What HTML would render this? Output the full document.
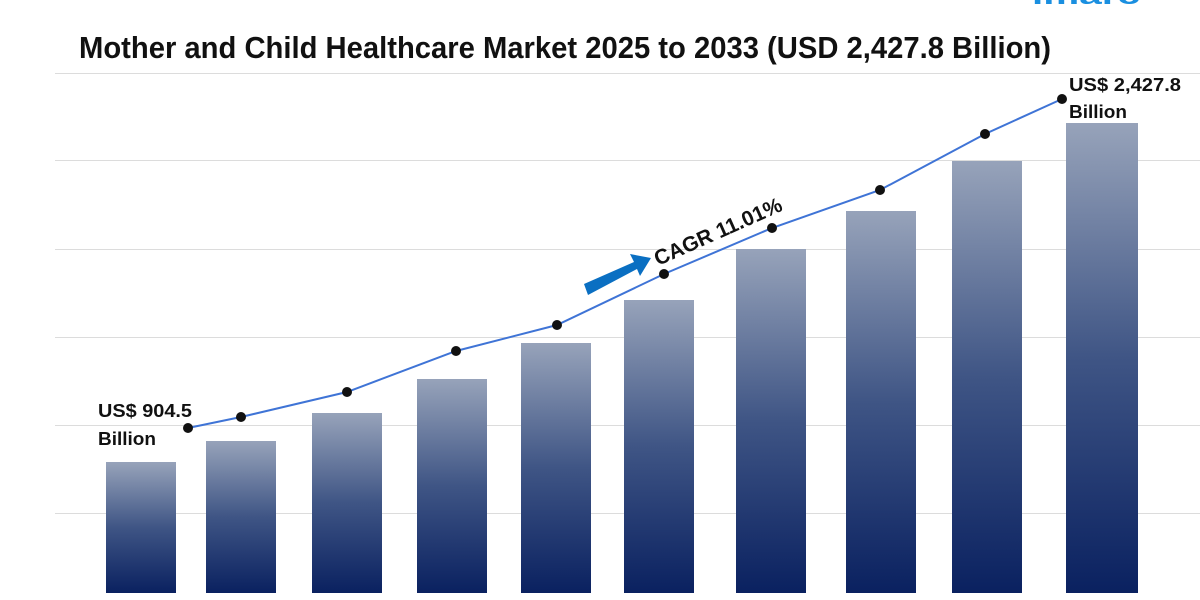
<!DOCTYPE html>
<html><head><meta charset="utf-8"><style>
html,body{margin:0;padding:0;background:#fff;}
svg{display:block;font-family:"Liberation Sans",sans-serif;}
</style></head><body>
<svg width="1200" height="600" viewBox="0 0 1200 600" xmlns="http://www.w3.org/2000/svg">
<defs>
<linearGradient id="g" x1="0" y1="0" x2="0" y2="1">
<stop offset="0" stop-color="#97a3ba"/>
<stop offset="0.5" stop-color="#3f5585"/>
<stop offset="1" stop-color="#0a2160"/>
</linearGradient>
</defs>
<text x="1032" y="4" font-size="24" font-weight="bold" fill="#1a8fe0" textLength="108" lengthAdjust="spacingAndGlyphs">imarc</text>
<text x="565" y="58" text-anchor="middle" font-size="31" font-weight="bold" fill="#111" textLength="972" lengthAdjust="spacingAndGlyphs">Mother and Child Healthcare Market 2025 to 2033 (USD 2,427.8 Billion)</text>
<g stroke="#dcdcdc" stroke-width="1">
<line x1="55" y1="73.5" x2="1200" y2="73.5"/>
<line x1="55" y1="160.5" x2="1200" y2="160.5"/>
<line x1="55" y1="249.5" x2="1200" y2="249.5"/>
<line x1="55" y1="337.5" x2="1200" y2="337.5"/>
<line x1="55" y1="425.5" x2="1200" y2="425.5"/>
<line x1="55" y1="513.5" x2="1200" y2="513.5"/>
</g>
<g fill="url(#g)">
<rect x="106" y="462" width="70" height="131"/>
<rect x="206" y="441" width="70" height="152"/>
<rect x="312" y="413" width="70" height="180"/>
<rect x="417" y="379" width="70" height="214"/>
<rect x="521" y="343" width="70" height="250"/>
<rect x="624" y="300" width="70" height="293"/>
<rect x="736" y="249" width="70" height="344"/>
<rect x="846" y="211" width="70" height="382"/>
<rect x="952" y="161" width="70" height="432"/>
<rect x="1066" y="123" width="72" height="470"/>
</g>
<polyline fill="none" stroke="#3f74d6" stroke-width="2" points="188,428 241,417 347,392 456,351 557,325 664,274 772,228 880,190 985,134 1062,99"/>
<g fill="#111">
<circle cx="188" cy="428" r="5"/><circle cx="241" cy="417" r="5"/><circle cx="347" cy="392" r="5"/><circle cx="456" cy="351" r="5"/><circle cx="557" cy="325" r="5"/><circle cx="664" cy="274" r="5"/><circle cx="772" cy="228" r="5"/><circle cx="880" cy="190" r="5"/><circle cx="985" cy="134" r="5"/><circle cx="1062" cy="99" r="5"/>
</g>
<polygon fill="#0a6fc2" points="584,284 634,262 630,254 651,258 640,276 637,269 588,295"/>
<text transform="translate(658,266) rotate(-24)" font-size="21" font-weight="bold" fill="#111">CAGR 11.01%</text>
<g font-size="18" font-weight="bold" fill="#111">
<text x="98" y="417" textLength="94" lengthAdjust="spacingAndGlyphs">US$ 904.5</text>
<text x="98" y="445" textLength="58" lengthAdjust="spacingAndGlyphs">Billion</text>
<text x="1069" y="91" textLength="112" lengthAdjust="spacingAndGlyphs">US$ 2,427.8</text>
<text x="1069" y="118" textLength="58" lengthAdjust="spacingAndGlyphs">Billion</text>
</g>
</svg>
</body></html>
